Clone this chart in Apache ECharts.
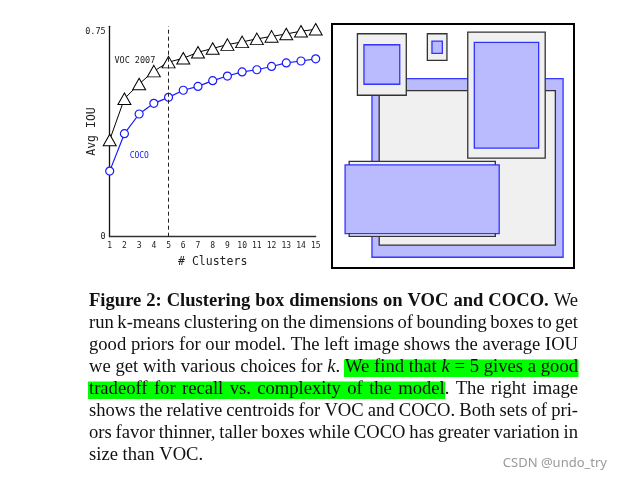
<!DOCTYPE html>
<html>
<head>
<meta charset="utf-8">
<script src="https://cdn.jsdelivr.net/npm/echarts@6/dist/echarts.min.js"></script>
<style>
html,body{margin:0;padding:0;background:#fff;}
#main{width:622px;height:480px;}
</style>
</head>
<body>
<div id="main"></div>
<script>
// ---- chart data ----
const clusters = [1,2,3,4,5,6,7,8,9,10,11,12,13,14,15];
const vocIou  = [0.354,0.505,0.559,0.606,0.639,0.653,0.675,0.689,0.703,0.713,0.724,0.733,0.742,0.752,0.759];
const cocoIou = [0.240,0.377,0.449,0.488,0.510,0.536,0.550,0.571,0.588,0.603,0.611,0.623,0.636,0.643,0.651];
const yTickValues = [0, 0.75];
const yTickLabels = ['0', '0.75'];
const chosenK = 5;
const seriesNames = ['VOC 2007', 'COCO'];
const vocLabelAt = [2.71, 0.644];
const cocoLabelAt = [3.01, 0.295];

// relative centroid boxes, [x0, y0, x1, y1] in % of the right panel
const vocBoxes = [
  [19.5, 27.3, 92.3, 90.6],
  [10.5, 4.0, 30.7, 29.2],
  [39.4, 4.0, 47.5, 14.9],
  [56.1, 3.3, 88.1, 55.0],
  [7.1, 56.3, 67.5, 87.0]
];
const cocoBoxes = [
  [16.5, 22.4, 95.5, 95.6],
  [13.2, 8.5, 28.0, 24.7],
  [41.3, 7.0, 45.6, 12.0],
  [58.8, 7.5, 85.4, 50.9],
  [5.4, 57.7, 69.1, 85.9]
];

// ---- caption text ----
function W(text, flags){ return text.split(' ').map(t => [[t, flags || '']]); }
const captionLines = [
  [].concat(W('Figure 2: Clustering box dimensions on VOC and COCO.', 'b'), W('We')),
  W('run k-means clustering on the dimensions of bounding boxes to get'),
  W('good priors for our model. The left image shows the average IOU'),
  [].concat(W('we get with various choices for'), [[['k','i'],['.','']]], W('We find that','h'),
            [[['k','ih']]], [[['=','h']]], [[['5','h']]], W('gives a good','h')),
  [].concat(W('tradeoff for recall vs. complexity of the','h'), [[['model','h'],['.','']]], W('The right image')),
  W('shows the relative centroids for VOC and COCO. Both sets of pri-'),
  W('ors favor thinner, taller boxes while COCO has greater variation in'),
  W('size than VOC.')
];

const chart = echarts.init(document.getElementById('main'), null, {renderer:'canvas'});

// build caption graphics
const capLeft = 89, capRight = 578, capTop = 301.5, capStep = 22, capSize = 18.6;
const measureCtx = document.createElement('canvas').getContext('2d');
function fontFor(flags){
  return (flags.includes('i') ? 'italic ' : '') + (flags.includes('b') ? 'bold ' : '') + capSize + 'px "Liberation Serif"';
}
function pieceWidth(p){ measureCtx.font = fontFor(p[1]); return measureCtx.measureText(p[0]).width; }
const captionGraphics = [];
const highlightGraphics = [];
captionLines.forEach((line, li) => {
  const y = capTop + li * capStep;
  const widths = line.map(w => w.reduce((s, p) => s + pieceWidth(p), 0));
  const total = widths.reduce((a, b) => a + b, 0);
  measureCtx.font = fontFor('');
  const spaceW = measureCtx.measureText(' ').width;
  const last = li === captionLines.length - 1;
  let gap = last ? spaceW : (capRight - capLeft - total) / (line.length - 1);
  if (gap < 2.5) gap = 2.5;
  let x = capLeft;
  let hMin = null, hMax = null;
  line.forEach((w, wi) => {
    w.forEach(p => {
      const pw = pieceWidth(p);
      if (p[1].includes('h')) { if (hMin === null) hMin = x; hMax = x + pw; }
      captionGraphics.push({
        type: 'text', x: x, y: y, silent: true, z: 10,
        style: { text: p[0], font: fontFor(p[1]), fill: '#111', align: 'left', verticalAlign: 'middle' }
      });
      x += pw;
    });
    x += gap;
  });
  if (hMin !== null) {
    highlightGraphics.push({
      type: 'rect', silent: true, z: 5,
      shape: { x: hMin - 1, y: y - 8, width: hMax - hMin + 1.5, height: 17.5 },
      style: { fill: '#00ff00' }
    });
  }
});

// draw order for boxes: big COCO behind, then VOC, then remaining COCO on top
const boxDraw = [];
boxDraw.push(cocoBoxes[0].concat([1]));
vocBoxes.forEach(b => boxDraw.push(b.concat([0])));
cocoBoxes.slice(1).forEach(b => boxDraw.push(b.concat([1])));

const monoFont = '"DejaVu Sans Mono"';

const option = {
  backgroundColor: '#fff',
  animation: false,
  grid: [
    { left: 109.7, top: 26.3, right: 306.3, bottom: 243.3, containLabel: false },
    { left: 332, top: 24, width: 242, height: 244, show: true, borderColor: '#000', borderWidth: 2, backgroundColor: '#fff' }
  ],
  xAxis: [
    {
      gridIndex: 0, type: 'value', min: 1, max: 15, interval: 1,
      name: '# Clusters', nameLocation: 'middle', nameGap: 19, nameMoveOverlap: false,
      nameTextStyle: { fontFamily: monoFont, fontSize: 11.5, color: '#222' },
      axisLine: { lineStyle: { color: '#333', width: 1.3 } },
      axisTick: { show: false },
      splitLine: { show: false },
      axisLabel: { fontFamily: monoFont, fontSize: 8, color: '#222', margin: 5 }
    },
    { gridIndex: 1, type: 'value', min: 0, max: 100, show: false }
  ],
  yAxis: [
    {
      gridIndex: 0, type: 'value', min: 0, max: 0.77, interval: 0.75,
      name: 'Avg IOU', nameLocation: 'middle', nameGap: 12, nameRotate: 90, nameMoveOverlap: false,
      nameTextStyle: { fontFamily: monoFont, fontSize: 11.5, color: '#222' },
      axisLine: { show: true, lineStyle: { color: '#111', width: 1.3 } },
      axisTick: { show: false },
      splitLine: { show: false },
      axisLabel: {
        fontFamily: monoFont, fontSize: 8.5, color: '#222', margin: 4, padding: [0, 0, 5, 0],
        formatter: function (v) {
          for (let i = 0; i < yTickValues.length; i++) {
            if (Math.abs(v - yTickValues[i]) < 1e-9) return yTickLabels[i];
          }
          return '';
        }
      }
    },
    { gridIndex: 1, type: 'value', min: 0, max: 100, inverse: true, show: false }
  ],
  series: [
    {
      name: seriesNames[0], type: 'line', xAxisIndex: 0, yAxisIndex: 0,
      data: clusters.map((k, i) => [k, vocIou[i]]),
      symbol: 'triangle', symbolSize: [13, 11.5],
      itemStyle: { color: '#fff', borderColor: '#000', borderWidth: 1 },
      lineStyle: { color: '#000', width: 1 },
      emphasis: { disabled: true },
      z: 3,
      markLine: {
        silent: true, symbol: ['none', 'none'], label: { show: false },
        lineStyle: { color: '#222', type: [4, 3], width: 1 },
        data: [{ xAxis: chosenK }]
      },
      markPoint: {
        silent: true, symbol: 'rect', symbolSize: 1,
        itemStyle: { color: 'rgba(0,0,0,0)' },
        label: { show: true, position: 'inside', formatter: '{b}', fontFamily: monoFont, fontSize: 8.5, color: '#222' },
        data: [{ name: seriesNames[0], coord: vocLabelAt }]
      }
    },
    {
      name: seriesNames[1], type: 'line', xAxisIndex: 0, yAxisIndex: 0,
      data: clusters.map((k, i) => [k, cocoIou[i]]),
      symbol: 'circle', symbolSize: 8,
      itemStyle: { color: '#fff', borderColor: '#1a1aff', borderWidth: 1.2 },
      lineStyle: { color: '#1a1aff', width: 1.2 },
      emphasis: { disabled: true },
      z: 4,
      markPoint: {
        silent: true, symbol: 'rect', symbolSize: 1,
        itemStyle: { color: 'rgba(0,0,0,0)' },
        label: { show: true, position: 'inside', formatter: '{b}', fontFamily: monoFont, fontSize: 8, color: '#1a1aff' },
        data: [{ name: seriesNames[1], coord: cocoLabelAt }]
      }
    },
    {
      type: 'custom', xAxisIndex: 1, yAxisIndex: 1, silent: true,
      data: boxDraw,
      renderItem: function (params, api) {
        const p0 = api.coord([api.value(0), api.value(1)]);
        const p1 = api.coord([api.value(2), api.value(3)]);
        const isCoco = api.value(4) === 1;
        return {
          type: 'rect',
          shape: { x: p0[0], y: p0[1], width: p1[0] - p0[0], height: p1[1] - p0[1] },
          style: isCoco
            ? { fill: '#babaff', stroke: 'rgba(10,10,255,0.8)', lineWidth: 1.3 }
            : { fill: '#f0f0f0', stroke: '#333', lineWidth: 1.3 }
        };
      }
    }
  ],
  graphic: highlightGraphics.concat(captionGraphics).concat([
    {
      type: 'text', x: 607, y: 463, silent: true, z: 10,
      style: { text: 'CSDN @undo_try', font: '13px "Noto Sans"', fill: '#9a9a9a', align: 'right', verticalAlign: 'middle' }
    }
  ])
};
chart.setOption(option);
</script>
</body>
</html>
